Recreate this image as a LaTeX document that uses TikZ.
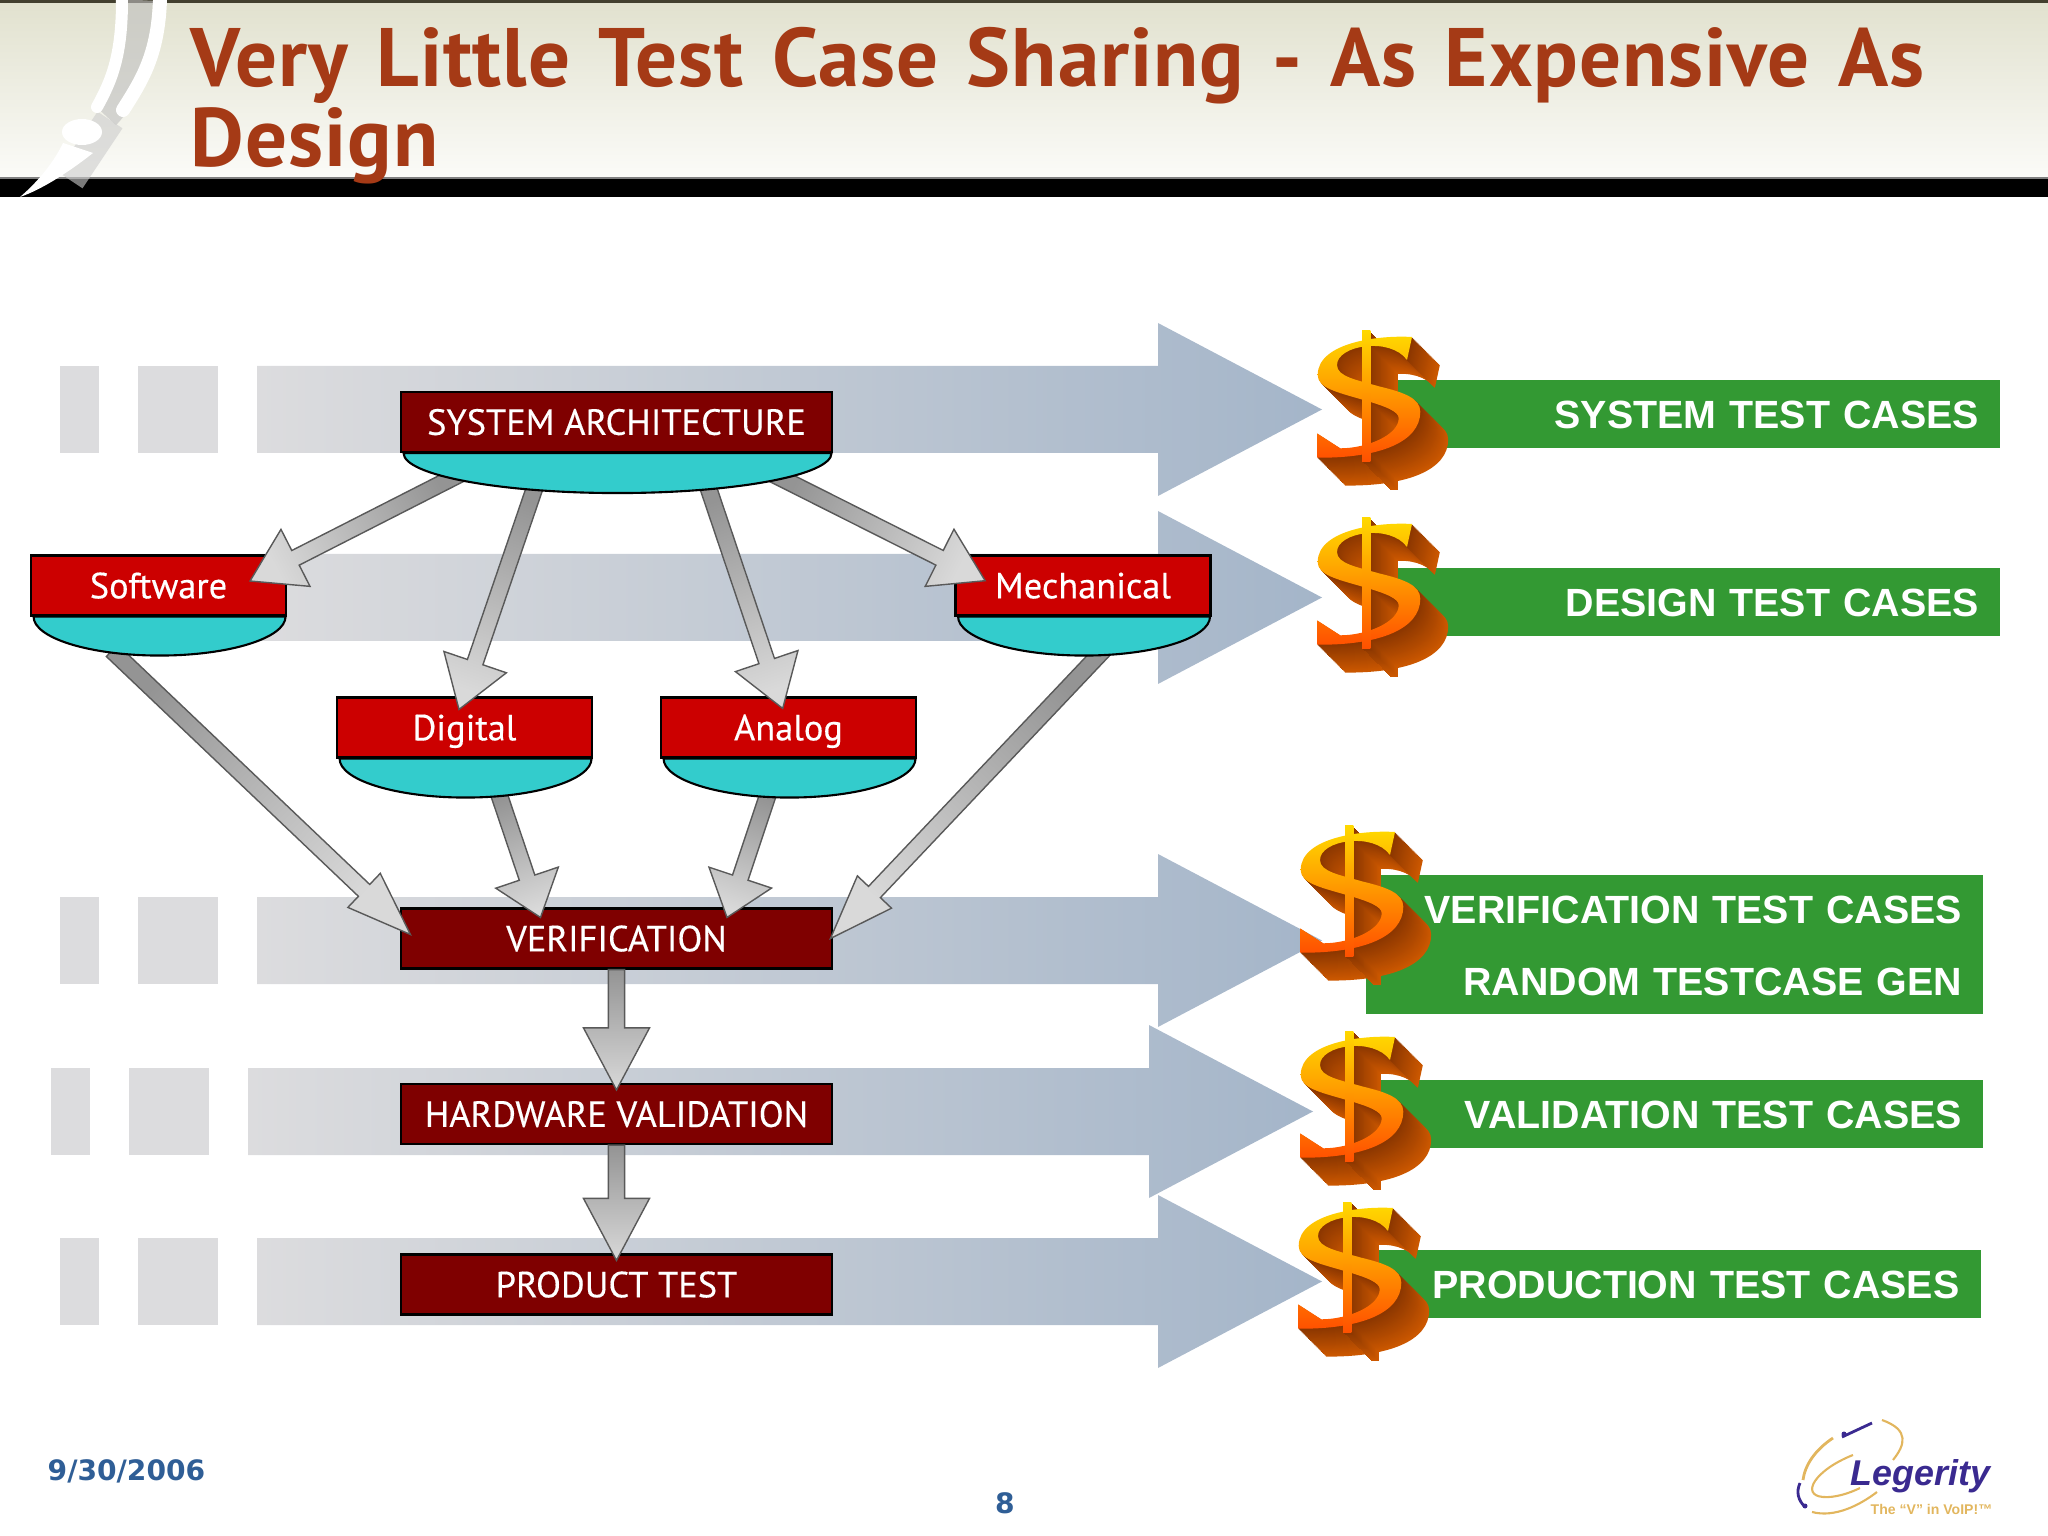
\documentclass[tikz,border=0pt]{standalone}
\usepackage{fontspec}
\setmainfont{PT Sans}
\newfontfamily\titlefont[WordSpace=1.28, LetterSpace=1.2]{PT Sans}
\newfontfamily\labelfont{Liberation Sans}
\newfontfamily\boxfont[FakeBold=0.35]{PT Sans}
\newfontfamily\footfont{DejaVu Sans}
\usetikzlibrary{calc}
\definecolor{titlered}{HTML}{A53A16}
\definecolor{darkbox}{HTML}{7F0000}
\definecolor{redbox}{HTML}{CC0000}
\definecolor{bowlteal}{HTML}{33CCCC}
\definecolor{cashgreen}{HTML}{339933}
\definecolor{bandgrey}{HTML}{DCDCDE}
\definecolor{bandblue}{HTML}{A4B5C9}
\definecolor{footblue}{HTML}{2F5E96}
\definecolor{logoblue}{HTML}{3A2A90}
\definecolor{logogold}{HTML}{E2B65E}
\definecolor{headtop}{HTML}{E1E1CE}
\definecolor{headmid}{HTML}{F0EBE2}
\definecolor{headlow}{HTML}{FBFBF8}
\definecolor{dollarside}{HTML}{CC5800}
\definecolor{dollardark}{HTML}{8A3600}
\definecolor{dollartop}{HTML}{FFD800}
\definecolor{dollarmid}{HTML}{FFA800}
\definecolor{dollarlow}{HTML}{FF5000}
\tikzset{
  stagebox/.style={draw=black, line width=.6pt, fill=darkbox, text=white, minimum width=4.31cm,
    minimum height=.6cm, inner sep=0pt, text height=7.3pt, text depth=0pt,
    font=\boxfont\fontsize{10.35}{11}\selectfont},
  partbox/.style={stagebox, fill=redbox, minimum width=2.55cm},
  bowlshape/.style={draw=black, line width=.6pt, fill=bowlteal},
  bandsquare/.style={fill=bandgrey},
  bandarrow/.style={left color=bandgrey, right color=bandblue},
  blockshade/.style={draw=black!65, line width=.4pt, bottom color=black!42, top color=black!15},
  cashbox/.style={fill=cashgreen, text=white, inner xsep=.21cm, inner ysep=0pt, align=right,
    text height=8.5pt, font=\labelfont\bfseries\fontsize{11.2}{20.4}\selectfont},
  dollar/.pic={
    \foreach \d in {30,29,...,1}
    {
      \pgfmathsetmacro\m{\d*100/30}
      \begin{scope}[shift={(.0093*\d,.0093*\d)}]
        \fill[dollarside!\m!dollardark] \dollarshape;
        \fill[dollarside!\m!dollardark] \dollarbar;
      \end{scope}
    }
    \path[top color=dollartop, middle color=dollarmid, bottom color=dollarlow] \dollarshape;
    \path[top color=dollartop, middle color=dollarmid, bottom color=dollarlow] \dollarbar;
  }
}
% the dollar sign, drawn around its own centre
\newcommand{\dollarshape}{(.47,-.58) .. controls (.153,-.60) and (-.473,-.53) .. (-.473,-.20)
  .. controls (-.473,-.07) and (-.28,-.027) .. (-.013,.05) .. controls (.22,.117) and (.337,.167) .. (.337,.233)
  .. controls (.337,.40) and (.02,.533) .. (-.247,.533) -- (-.48,.383) -- (-.48,.627)
  .. controls (.153,.633) and (.553,.467) .. (.553,.167) .. controls (.553,.033) and (.387,-.027) .. (.153,-.083)
  .. controls (-.08,-.15) and (-.28,-.183) .. (-.28,-.30) .. controls (-.28,-.50) and (.253,-.583) .. (.42,-.35) -- cycle}
\newcommand{\dollarbar}{(-.03,-.64) rectangle (.053,.667)}
% block arrow between two points: from, to, head length, head half width
\newcommand{\blockarrow}[4]{
  \coordinate (bs) at (#1);
  \coordinate (bt) at (#2);
  \coordinate (bn) at ($(bt)!#3!(bs)$);
  \path let \p1=($(bt)-(bs)$), \n1={atan2(\y1,\x1)-90} in \pgfextra{\xdef\blockangle{\n1}};
  \path[blockshade, shading angle=\blockangle] ($(bs)!.082cm!90:(bt)$) -- ($(bn)!.082cm!90:(bt)$)
    -- ($(bn)!#4!90:(bt)$) -- (bt) -- ($(bn)!#4!-90:(bt)$) -- ($(bn)!.082cm!-90:(bt)$)
    -- ($(bs)!.082cm!-90:(bt)$) -- cycle;
}
\begin{document}
\begin{tikzpicture}[y=-1cm]
  \useasboundingbox (0,0) rectangle (20.48,15.36);

  % header
  \path[top color=headtop, middle color=headmid, bottom color=headlow] (0,0) rectangle (20.48,1.78);
  \fill[black!70!olive] (0,0) rectangle (20.48,.03);
  \fill[black] (0,1.78) rectangle (20.48,1.97);
  \fill[black!50] (0,1.77) rectangle (20.48,1.79);
  \draw[black!25, opacity=.6, line width=.3cm] (1.38,0) .. controls (1.35,.6) and (1.25,.95) .. (1.05,1.15);
  \draw[black!20, opacity=.6, line width=.3cm] (1.10,1.2) -- (.7,1.8);
  \draw[white, line width=.12cm, line cap=round] (1.22,0) .. controls (1.22,.55) and (1.12,.8) .. (.97,1.07);
  \draw[white, line width=.14cm, line cap=round] (1.60,0) .. controls (1.58,.55) and (1.42,.8) .. (1.23,1.10);
  \fill[white] (.82,1.32) ellipse (.2cm and .13cm);
  \fill[white] (.63,1.43) -- (.93,1.53) .. controls (.65,1.75) and (.4,1.9) .. (.2,1.97) .. controls (.4,1.8) and (.55,1.6) .. cycle;
  \node[anchor=base west, inner sep=0pt, text=titlered, align=left, font=\titlefont\bfseries\fontsize{23.6}{22.8}\selectfont] (title) at (1.90,1.67)
    {Very Little Test Case Sharing - As Expensive As\\Design};

  % bands behind the flow
  \foreach \y/\s in {3.66/0, 5.54/0, 8.97/0, 10.68/-.09, 12.38/0}
  {
    \begin{scope}[shift={(\s,\y)}]
      \fill[bandsquare] (.60,0) rectangle (.99,.87);
      \fill[bandsquare] (1.38,0) rectangle (2.18,.87);
      \path[bandarrow] (2.57,0) -- (11.58,0) -- (11.58,-.43) -- (13.22,.435) -- (11.58,1.30)
        -- (11.58,.87) -- (2.57,.87) -- cycle;
    \end{scope}
  }

  % green result bars
  \node[cashbox, text width=5.78cm, minimum height=.68cm] (systest) at (16.90,4.14) {SYSTEM TEST CASES};
  \node[cashbox, text width=5.78cm, minimum height=.68cm] (destest) at (16.90,6.02) {DESIGN TEST CASES};
  \node[cashbox, text width=5.75cm, minimum height=1.39cm] (vertest) at (16.745,9.445) {VERIFICATION TEST CASES\\RANDOM TESTCASE GEN};
  \node[cashbox, text width=5.75cm, minimum height=.68cm] (valtest) at (16.745,11.14) {VALIDATION TEST CASES};
  \node[cashbox, text width=5.75cm, minimum height=.68cm] (prodcases) at (16.72,12.84) {PRODUCTION TEST CASES};

  % dollars
  \foreach \x/\y/\n in {13.65/3.95/a, 13.65/5.82/b, 13.48/8.90/c, 13.48/10.95/d, 13.46/12.66/e}
    \pic (dollar\n) at (\x,\y) {dollar};

  % flow boxes
  \node[stagebox] (sysarch) at (6.165,4.22) {SYSTEM ARCHITECTURE};
  \node[partbox] (software) at (1.585,5.855) {Software};
  \node[partbox] (mechanical) at (10.83,5.855) {Mechanical};
  \node[partbox] (digital) at (4.645,7.275) {Digital};
  \node[partbox] (analog) at (7.885,7.275) {Analog};
  \node[stagebox] (verification) at (6.165,9.385) {VERIFICATION};
  \node[stagebox] (hwvalid) at (6.165,11.14) {HARDWARE VALIDATION};
  \node[stagebox] (prodtest) at (6.165,12.845) {PRODUCT TEST};

  \blockarrow{$(sysarch.south)+(-1.545,.20)$}{$(software.east)+(-.37,-.045)$}{.51cm}{.32cm}
  \blockarrow{$(sysarch.south)+(-.795,.28)$}{$(digital.north)+(-.055,.13)$}{.50cm}{.33cm}
  \blockarrow{$(sysarch.south)+(.895,.28)$}{$(analog.north)+(-.058,.12)$}{.50cm}{.33cm}
  \blockarrow{$(sysarch.south)+(1.545,.20)$}{$(mechanical.west)+(.307,-.048)$}{.51cm}{.32cm}
  \blockarrow{$(software.south)+(-.465,.34)$}{$(verification.west)+(.105,-.04)$}{.64cm}{.235cm}
  \blockarrow{$(digital.south)+(.325,.30)$}{$(verification.north)+(-.76,.10)$}{.42cm}{.33cm}
  \blockarrow{$(analog.south)+(-.185,.30)$}{$(verification.north)+(1.105,.10)$}{.42cm}{.33cm}
  \blockarrow{$(mechanical.south)+(.22,.32)$}{$(verification.east)+(-.026,0)$}{.64cm}{.235cm}
  \blockarrow{verification.south}{$(hwvalid.north)+(0,.07)$}{.62cm}{.33cm}
  \blockarrow{hwvalid.south}{$(prodtest.north)+(0,.07)$}{.62cm}{.33cm}

  % bowls go over the arrow tails
  \foreach \n in {software,mechanical,digital,analog}
    \draw[bowlshape] ($(\n.south east)+(-.015,0)$) arc[start angle=0, end angle=-180, x radius=1.26cm, y radius=.39cm] -- cycle;
  \draw[bowlshape] ($(sysarch.south east)+(-.015,0)$) arc[start angle=0, end angle=-180, x radius=2.14cm, y radius=.40cm] -- cycle;

  % footer
  \node[anchor=base west, inner sep=0pt, text=footblue, font=\footfont\bfseries\fontsize{8}{10}\selectfont] (date) at (.47,14.80) {9/30/2006};
  \node[inner sep=0pt, text=footblue, font=\footfont\bfseries\fontsize{8}{10}\selectfont] (page) at (10.05,15.03) {8};

  % logo
  \draw[logogold, line width=.6pt] (18.82,14.20) .. controls (19.10,14.30) and (19.05,14.45) .. (18.93,14.60);
  \draw[logogold, line width=.8pt] (18.33,14.38) .. controls (18.15,14.50) and (18.05,14.65) .. (18.03,14.80);
  \draw[logogold, line width=.6pt] (18.53,14.55) .. controls (18.15,14.70) and (18.00,14.95) .. (18.23,14.97) .. controls (18.35,14.98) and (18.50,14.93) .. (18.60,14.88);
  \draw[logogold, line width=.6pt] (18.12,15.12) .. controls (18.35,15.18) and (18.60,15.05) .. (18.77,14.92);
  \draw[logoblue, line width=.8pt] (18.42,14.37) -- (18.72,14.23);
  \draw[logoblue, line width=.8pt] (18.00,14.83) .. controls (17.96,14.92) and (17.98,15.00) .. (18.05,15.07);
  \fill[logoblue] (18.44,14.34) circle (.025cm);
  \fill[logoblue] (18.05,15.06) circle (.025cm);
  \node[anchor=base west, inner sep=0pt, text=logoblue, font=\labelfont\bfseries\itshape\fontsize{10.2}{11}\selectfont] (legerity) at (18.50,14.85) {Legerity};
  \node[anchor=base west, inner sep=0pt, text=logogold, font=\labelfont\bfseries\fontsize{4}{4}\selectfont] (tagline) at (18.70,15.14) {The “V” in VoIP!™};
\end{tikzpicture}
\end{document}
